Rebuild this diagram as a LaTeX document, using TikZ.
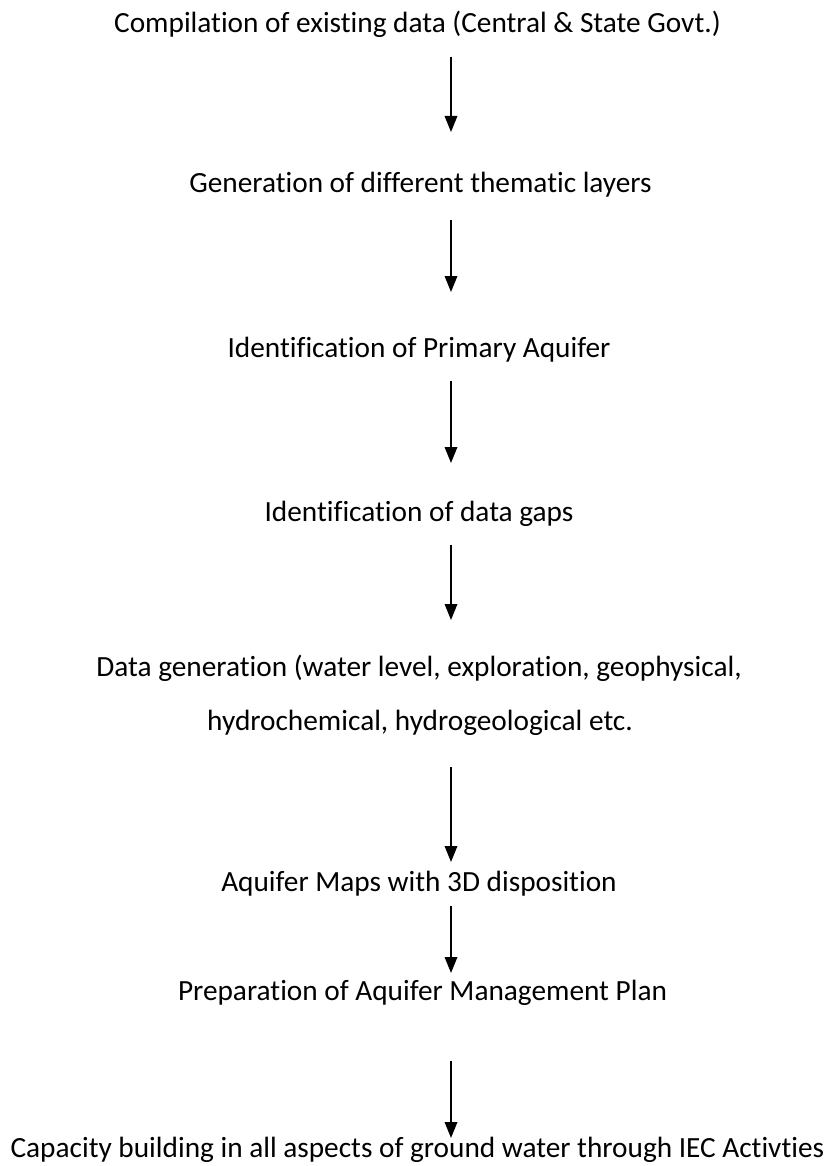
\documentclass[tikz,border=0pt]{standalone}
\usepackage{fontspec}
\setmainfont[Ligatures={NoCommon}]{Carlito}
\usetikzlibrary{arrows.meta,calc}
\tikzset{
  lbl/.style={anchor=base, inner sep=0pt, font=\fontsize{29.3}{34}\selectfont},
  arr/.style={line width=1.8pt, -{Triangle[width=12.5pt,length=16pt]}}
}
\begin{document}
\begin{tikzpicture}[x=1pt,y=-1pt]
\useasboundingbox (0,0) rectangle (835,1166);
\coordinate (ax) at (451,0);
\node[lbl] (n1) at (417.5,33) {Compilation of existing data (Central \& State Govt.)};
\node[lbl] (n2) at (420.5,193) {Generation of different thematic layers};
\node[lbl] (n3) at (419,357) {Identification of Primary Aquifer};
\node[lbl] (n4) at (419,521) {Identification of data gaps};
\node[lbl] (n5) at (419,676) {Data generation (water level, exploration, geophysical,};
\node[lbl] (n6) at (420,730) {hydrochemical, hydrogeological etc.};
\node[lbl] (n7) at (419,891) {Aquifer Maps with 3D disposition};
\node[lbl] (n8) at (422.5,1000) {Preparation of Aquifer Management Plan};
\node[lbl] (n9) at (417.5,1157) {Capacity building in all aspects of ground water through IEC Activties};
\draw[arr] ($(n1.base -| ax)+(0,24)$) -- ($(n2.base -| ax)+(0,-61)$);
\draw[arr] ($(n2.base -| ax)+(0,27)$) -- ($(n3.base -| ax)+(0,-65)$);
\draw[arr] ($(n3.base -| ax)+(0,24)$) -- ($(n4.base -| ax)+(0,-58)$);
\draw[arr] ($(n4.base -| ax)+(0,24)$) -- ($(n5.base -| ax)+(0,-56)$);
\draw[arr] ($(n6.base -| ax)+(0,37)$) -- ($(n7.base -| ax)+(0,-29)$);
\draw[arr] ($(n7.base -| ax)+(0,15)$) -- ($(n8.base -| ax)+(0,-27)$);
\draw[arr] ($(n8.base -| ax)+(0,61)$) -- ($(n9.base -| ax)+(0,-19)$);
\end{tikzpicture}
\end{document}
